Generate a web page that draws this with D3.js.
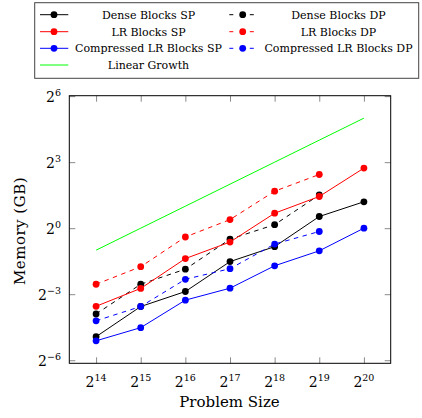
<!DOCTYPE html>
<html><head><meta charset="utf-8">
<script src="https://cdn.jsdelivr.net/npm/d3@7"></script>
<style>
html,body{margin:0;padding:0;background:#fff;}
</style>
</head><body>
<svg id="chart" width="422" height="418"></svg>
<script>
// ---- data ----
const problemSizes = [16384, 32768, 65536, 131072, 262144, 524288, 1048576];
const denseSP      = [0.0328, 0.0848, 0.136, 0.349, 0.559, 1.444, 2.297];
const denseDP      = [0.0670, 0.171, 0.275, 0.707, 1.117, 2.848];
const lrSP         = [0.0854, 0.150, 0.384, 0.646, 1.602, 2.713, 6.635];
const lrDP         = [0.171, 0.297, 0.758, 1.310, 3.204, 5.426];
const compSP       = [0.0288, 0.0436, 0.1037, 0.151, 0.306, 0.490, 1.0];
const compDP       = [0.0541, 0.0848, 0.200, 0.279, 0.607, 0.901];
const linearGrowth = [0.5, 1, 2, 4, 8, 16, 32];
const xTickExps = [14, 15, 16, 17, 18, 19, 20];
const yTickExps = [-6, -3, 0, 3, 6];
const seriesNames = ["Dense Blocks SP","Dense Blocks DP","LR Blocks SP","LR Blocks DP",
                     "Compressed LR Blocks SP","Compressed LR Blocks DP","Linear Growth"];
const seriesColors = ["#000000","#000000","#ff0000","#ff0000","#0000ff","#0000ff","#00ff00"];
const seriesDashed = [false,true,false,true,false,true,false];
const seriesMarks  = [true,true,true,true,true,true,false];
const seriesValues = [denseSP, denseDP, lrSP, lrDP, compSP, compDP, linearGrowth];

// ---- layout ----
const FONT = "DejaVu Serif, serif";
const svg = d3.select("#chart").attr("font-family", FONT);
const L = 69.3, R = 390.7, T = 95.7, B = 363.3;
const x = d3.scaleLog().base(2).domain([Math.pow(2,13.4), Math.pow(2,20.6)]).range([L, R]);
const y = d3.scaleLog().base(2).domain([Math.pow(2,-6.14), Math.pow(2,6.02)]).range([B, T]);
const xTicks = xTickExps.map(e => Math.pow(2,e));
const yTicks = yTickExps.map(e => Math.pow(2,e));
const tickLen = 6, tickCol = "#8a8a8a";

function styleAxis(g){
  g.select(".domain").remove();
  g.selectAll(".tick line").attr("stroke", tickCol).attr("stroke-width", 1);
}
svg.append("g").attr("transform",`translate(0,${B})`)
  .call(d3.axisBottom(x).tickValues(xTicks).tickSize(-tickLen).tickFormat(""))
  .call(styleAxis);
svg.append("g").attr("transform",`translate(0,${T})`)
  .call(d3.axisTop(x).tickValues(xTicks).tickSize(-tickLen).tickFormat(""))
  .call(styleAxis);
svg.append("g").attr("transform",`translate(${L},0)`)
  .call(d3.axisLeft(y).tickValues(yTicks).tickSize(-tickLen).tickFormat(""))
  .call(styleAxis);
svg.append("g").attr("transform",`translate(${R},0)`)
  .call(d3.axisRight(y).tickValues(yTicks).tickSize(-tickLen).tickFormat(""))
  .call(styleAxis);

const xl = svg.append("g");
xTickExps.forEach(e => {
  const t = xl.append("text").attr("x", x(Math.pow(2,e))).attr("y", 387)
    .attr("text-anchor","middle").attr("font-family", FONT).style("font-size","14px");
  t.append("tspan").text("2");
  t.append("tspan").attr("dy",-6).style("font-size","9.5px").text(String(e));
});
const yl = svg.append("g");
yTickExps.forEach(e => {
  const t = yl.append("text").attr("x", 61).attr("y", y(Math.pow(2,e)) + 6)
    .attr("text-anchor","end").attr("font-family", FONT).style("font-size","14px");
  t.append("tspan").text("2");
  t.append("tspan").attr("dy",-6).style("font-size","9.5px").text(e < 0 ? "\u2212" + (-e) : String(e));
});

svg.append("text").attr("x", (L+R)/2 - 0.5).attr("y", 407).attr("text-anchor","middle")
  .attr("font-family", FONT).style("font-size","15px").text("Problem Size");
svg.append("text").attr("transform",`translate(24.5,231) rotate(-90)`)
  .attr("text-anchor","middle").attr("font-family", FONT).style("font-size","15px")
  .style("letter-spacing","0.5px").text("Memory (GB)");

const line = d3.line().x(d => x(d[0])).y(d => y(d[1]));
seriesValues.forEach((vals, i) => {
  const pts = vals.map((v, j) => [problemSizes[j], v]);
  const g = svg.append("g");
  g.append("path").datum(pts).attr("d", line).attr("fill","none")
    .attr("stroke", seriesColors[i]).attr("stroke-width", 1)
    .attr("stroke-dasharray", seriesDashed[i] ? "4.5,4.5" : null);
  if (seriesMarks[i]) {
    g.selectAll("circle").data(pts).join("circle")
      .attr("cx", d => x(d[0])).attr("cy", d => y(d[1])).attr("r", 3.4)
      .attr("fill", seriesColors[i]);
  }
});

svg.append("rect").attr("x", L).attr("y", T).attr("width", R-L).attr("height", B-T)
  .attr("fill","none").attr("stroke","#000").attr("stroke-width",1);

const lg = svg.append("g");
lg.append("rect").attr("x", 34.7).attr("y", 2.7).attr("width", 384).attr("height", 75.6)
  .attr("fill","#fff").attr("stroke","#444").attr("stroke-width",1);
const rowY = [14.7, 31.7, 48.3, 65];
seriesNames.forEach((name, i) => {
  const col = (i === 6) ? 0 : i % 2;
  const row = (i === 6) ? 3 : Math.floor(i / 2);
  const yy = rowY[row];
  const x0 = col === 0 ? 40 : 229.3, x1 = col === 0 ? 68.3 : 253.8;
  const mx = col === 0 ? 54 : 242.7;
  lg.append("line").attr("x1", x0).attr("x2", x1).attr("y1", yy).attr("y2", yy)
    .attr("stroke", seriesColors[i]).attr("stroke-width", 1)
    .attr("stroke-dasharray", seriesDashed[i] ? "4,16.5,4" : null);
  if (seriesMarks[i]) lg.append("circle").attr("cx", mx).attr("cy", yy).attr("r", 3.4).attr("fill", seriesColors[i]);
  lg.append("text").attr("x", col === 0 ? 148.5 : 338.5).attr("y", yy + 4)
    .attr("text-anchor","middle").attr("font-family", FONT).style("font-size","11px").text(name);
});
</script>
</body></html>
